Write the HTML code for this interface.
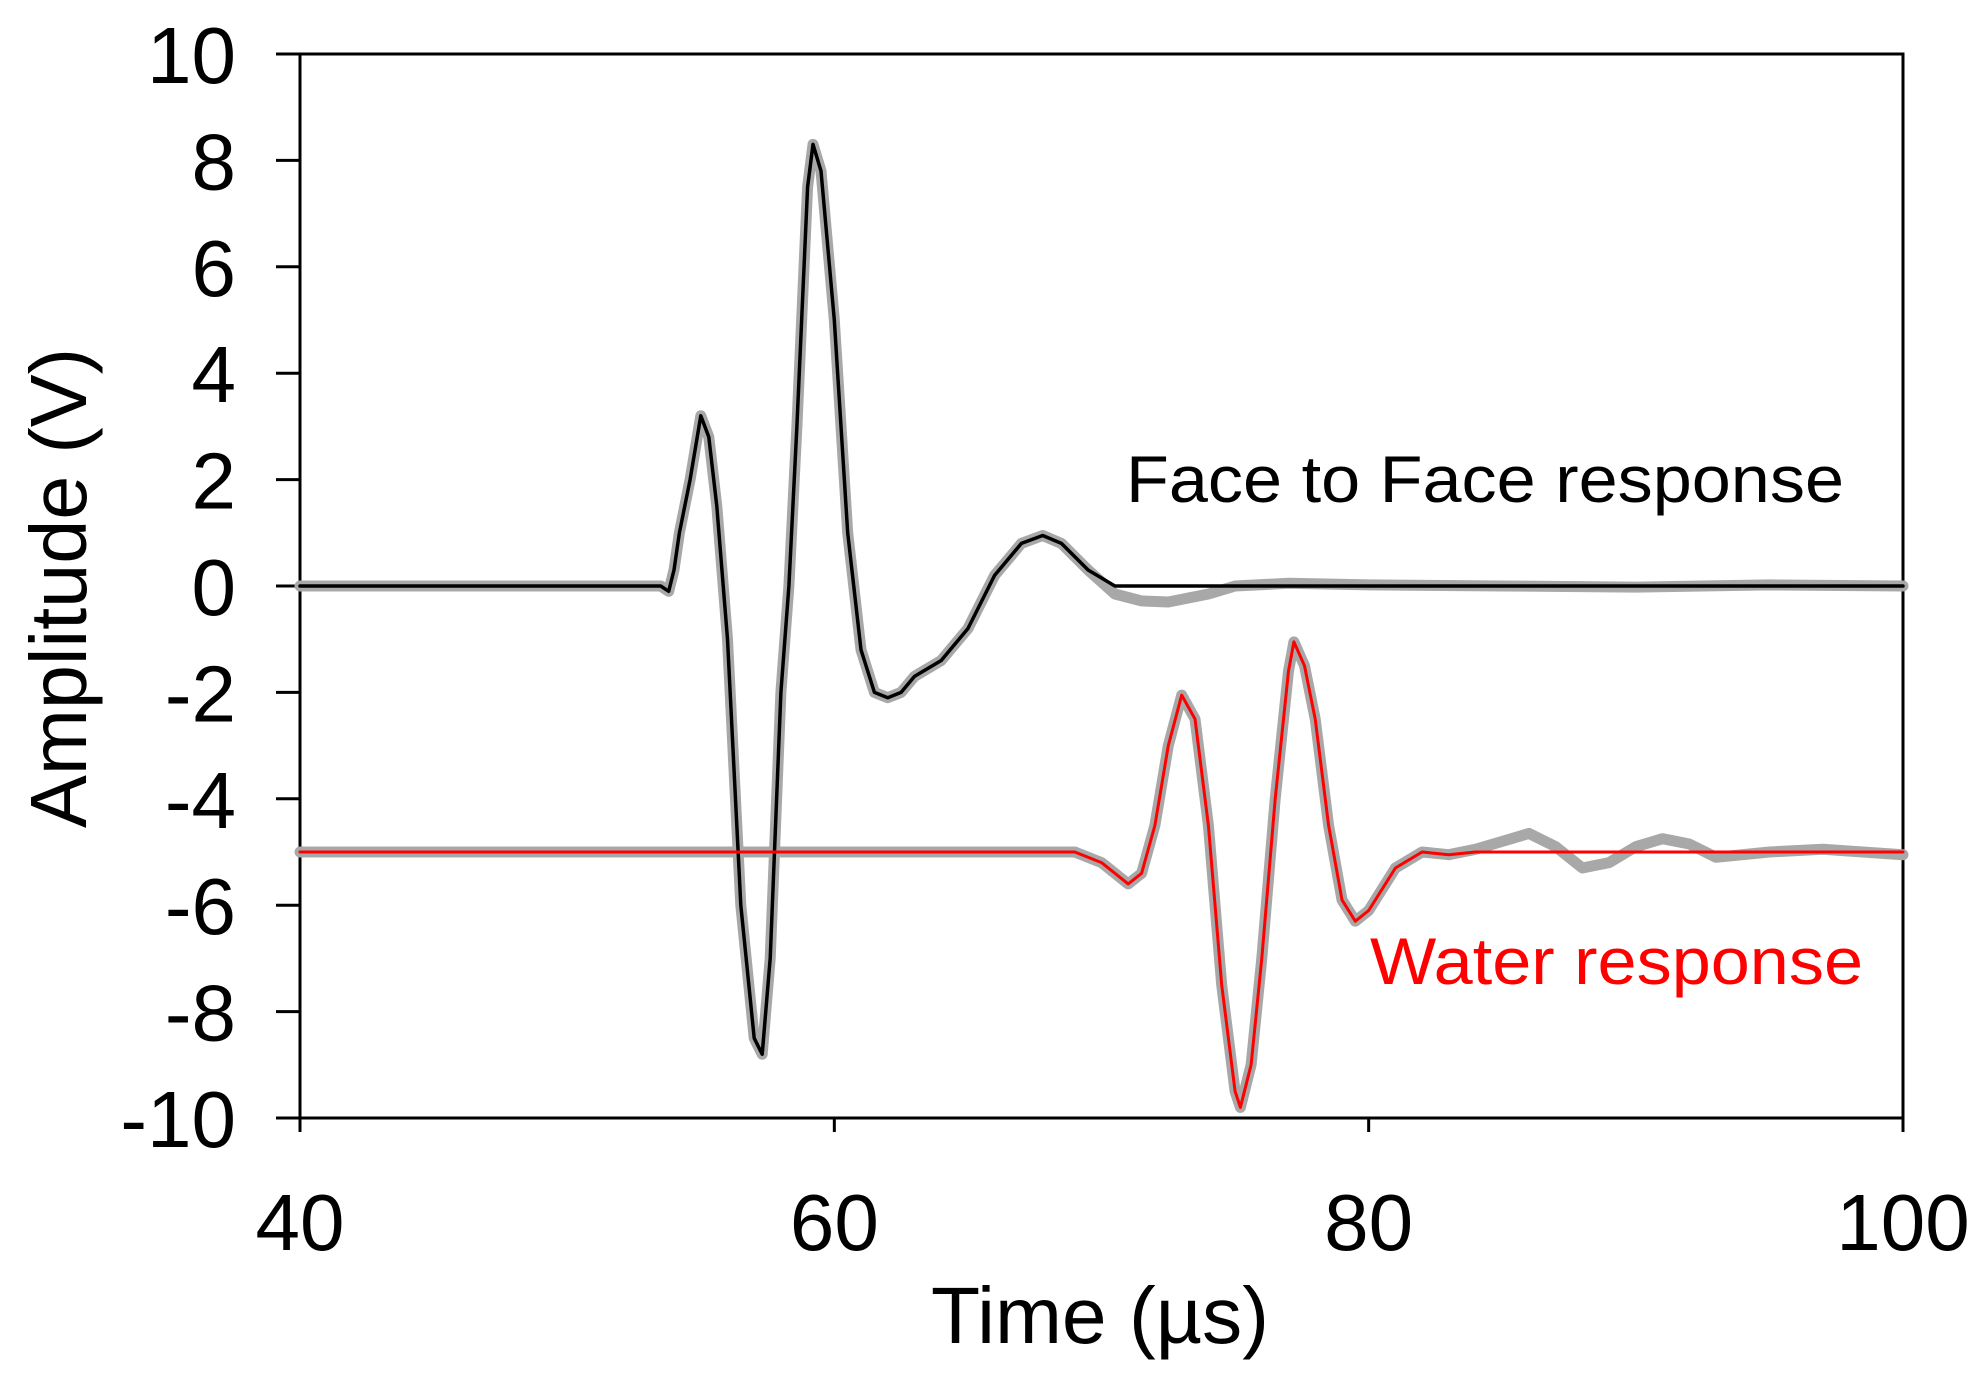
<!DOCTYPE html>
<html><head><meta charset="utf-8"><style>
html,body{margin:0;padding:0;background:#fff;}
svg{display:block;font-family:"Liberation Sans",Arial,sans-serif;}
</style></head><body>
<svg id="chart" width="1983" height="1393" viewBox="0 0 1983 1393" xmlns="http://www.w3.org/2000/svg">
<g id="axes"></g>
<g id="series"></g>
<text x="1126" y="502" font-size="66" fill="#000" textLength="718" lengthAdjust="spacingAndGlyphs">Face to Face response</text>
<text x="1370" y="984" font-size="66" fill="#ff0000" textLength="493" lengthAdjust="spacingAndGlyphs">Water response</text>
<text transform="translate(86,588) rotate(-90)" text-anchor="middle" font-size="80" fill="#000" textLength="480" lengthAdjust="spacingAndGlyphs">Amplitude  (V)</text>
<text x="1100" y="1343" text-anchor="middle" font-size="80" fill="#000" textLength="338" lengthAdjust="spacingAndGlyphs">Time (µs)</text>
</svg>
<script>
const xTicks = [40, 60, 80, 100];
const yTicks = [10, 8, 6, 4, 2, 0, -2, -4, -6, -8, -10];
const faceT = [40,53.5,53.8,54.0,54.2,54.6,55.0,55.3,55.6,56.0,56.5,57.0,57.3,57.6,58.0,58.3,58.6,59.0,59.2,59.5,60.0,60.5,61.0,61.5,62.0,62.5,63,64,65,66,67,67.8,68.5,69.5,70.5,71,100];
const faceV = [0,0,-0.1,0.3,1,2,3.2,2.8,1.5,-1,-6,-8.5,-8.8,-7,-2,0,3,7.5,8.3,7.8,5,1,-1.2,-2.0,-2.1,-2.0,-1.7,-1.4,-0.8,0.2,0.8,0.95,0.8,0.3,0,0,0];
const faceRefT = [40,53.5,53.8,54.0,54.2,54.6,55.0,55.3,55.6,56.0,56.5,57.0,57.3,57.6,58.0,58.3,58.6,59.0,59.2,59.5,60.0,60.5,61.0,61.5,62.0,62.5,63,64,65,66,67,67.8,68.5,69.5,70.5,71.5,72.5,74,75,77,80,85,90,95,100];
const faceRefV = [0,0,-0.1,0.3,1,2,3.2,2.8,1.5,-1,-6,-8.5,-8.8,-7,-2,0,3,7.5,8.3,7.8,5,1,-1.2,-2.0,-2.1,-2.0,-1.7,-1.4,-0.8,0.2,0.8,0.95,0.8,0.3,-0.15,-0.28,-0.3,-0.15,0,0.05,0.02,0,-0.02,0.02,0];
const waterT = [40,69,70,71,71.5,72,72.5,73,73.5,74,74.5,75,75.2,75.6,76,76.5,77,77.2,77.6,78,78.5,79,79.5,80,81,82,83,84,100];
const waterV = [-5,-5,-5.2,-5.6,-5.4,-4.5,-3,-2.05,-2.5,-4.5,-7.5,-9.5,-9.8,-9,-7,-4,-1.6,-1.05,-1.5,-2.5,-4.5,-5.9,-6.3,-6.1,-5.3,-5.0,-5.05,-5.0,-5.0];
const waterRefT = [40,69,70,71,71.5,72,72.5,73,73.5,74,74.5,75,75.2,75.6,76,76.5,77,77.2,77.6,78,78.5,79,79.5,80,81,82,83,84,85,86,87,88,89,90,91,92,93,95,97,100];
const waterRefV = [-5,-5,-5.2,-5.6,-5.4,-4.5,-3,-2.05,-2.5,-4.5,-7.5,-9.5,-9.8,-9,-7,-4,-1.6,-1.05,-1.5,-2.5,-4.5,-5.9,-6.3,-6.1,-5.3,-5.0,-5.05,-4.95,-4.8,-4.65,-4.9,-5.3,-5.2,-4.9,-4.75,-4.85,-5.1,-5.0,-4.95,-5.05];

const NS = "http://www.w3.org/2000/svg";
const L = 300, R = 1903, T = 54, B = 1118;
const xs = v => L + (v - 40) / 60 * (R - L);
const ys = v => T + (10 - v) / 20 * (B - T);
const axes = document.getElementById('axes');
const series = document.getElementById('series');
function mk(tag, attrs, parent) {
  const e = document.createElementNS(NS, tag);
  for (const k in attrs) e.setAttribute(k, attrs[k]);
  parent.appendChild(e);
  return e;
}
const frame = mk('rect', {x: L, y: T, width: R - L, height: B - T, fill: 'none', stroke: '#000', 'stroke-width': 3}, axes);


yTicks.forEach(v => {
  const t = mk('line', {x1: L - 24, x2: L, y1: ys(v), y2: ys(v), stroke: '#000', 'stroke-width': 3}, axes);
  
  
  const lb = mk('text', {x: 236, y: ys(v) + 29, 'text-anchor': 'end', 'font-size': 80, fill: '#000'}, axes);
  lb.textContent = String(v);
  
  
});
xTicks.forEach(v => {
  const t = mk('line', {x1: xs(v), x2: xs(v), y1: B, y2: B + 14, stroke: '#000', 'stroke-width': 3}, axes);
  
  
  const lb = mk('text', {x: xs(v), y: 1250, 'text-anchor': 'middle', 'font-size': 80, fill: '#000'}, axes);
  lb.textContent = String(v);
  
  
});
function path(tArr, vArr, color, w, name) {
  const d = tArr.map((t, i) => (i ? 'L' : 'M') + xs(t).toFixed(1) + ',' + ys(vArr[i]).toFixed(1)).join(' ');
  const p = mk('path', {d: d, fill: 'none', stroke: color, 'stroke-width': w, 'stroke-linejoin': 'round', 'stroke-linecap': 'round'}, series);
  
  
}
path(faceRefT, faceRefV, '#a8a8a8', 11, 'face-to-face-reference-line');
path(waterRefT, waterRefV, '#a8a8a8', 11, 'water-reference-line');
path(faceT, faceV, '#000', 3.5, 'face-to-face-line');
path(waterT, waterV, '#ff0000', 3, 'water-line');
</script>
</body></html>
